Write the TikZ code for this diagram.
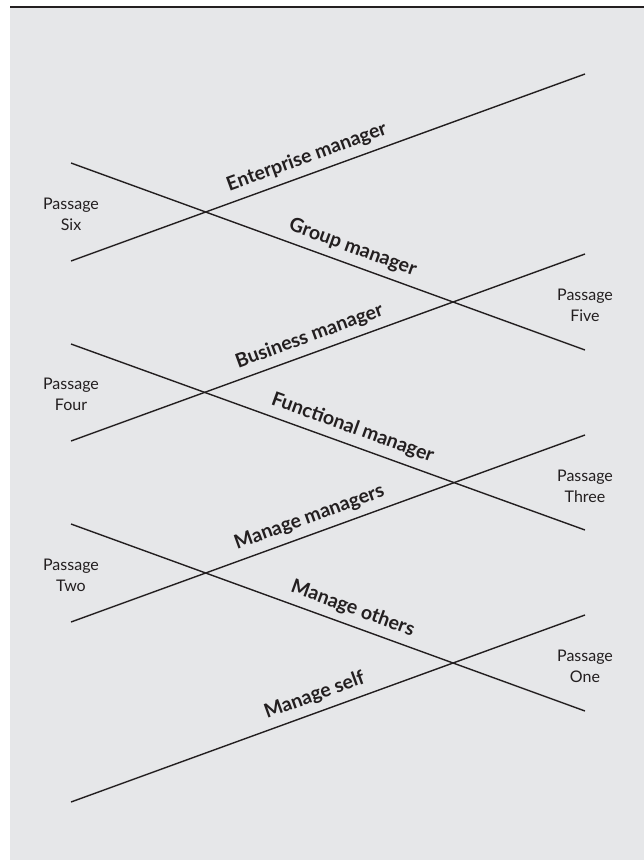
\documentclass[tikz,border=0pt]{standalone}
\usepackage{fontspec}
\setmainfont{Lato}
\definecolor{bggray}{HTML}{E6E7E9}
\definecolor{ink}{HTML}{231F20}
\begin{document}
\begin{tikzpicture}[x=1pt,y=-1pt,
  ln/.style={line width=1.4pt, draw=ink},
  pass/.style={align=center, text=ink, font=\fontsize{16}{21}\selectfont, inner sep=0pt},
  lab/.style={sloped, above=7pt, inner sep=0pt, text=ink, font=\bfseries\fontsize{19.5}{22}\selectfont}]
\useasboundingbox (0,0) rectangle (644,860);
\fill[bggray] (10,7) rectangle (644,860);
\draw[line width=1.6pt, draw=ink] (10,7) -- (644,7);
% end points
\coordinate (u1l) at (71,261); \coordinate (u1r) at (585,74);
\coordinate (u2l) at (71,441); \coordinate (u2r) at (585,254);
\coordinate (u3l) at (71,622); \coordinate (u3r) at (585,435);
\coordinate (u4l) at (71,802); \coordinate (u4r) at (585,615);
\coordinate (d1l) at (71,163); \coordinate (d1r) at (585,350);
\coordinate (d2l) at (71,344); \coordinate (d2r) at (585,530);
\coordinate (d3l) at (71,524); \coordinate (d3r) at (585,711);
% lines with labels
\draw[ln] (u1l) -- node[lab, pos=0.47] (l1) {Enterprise manager} (u1r);
\draw[ln] (d1l) -- node[lab, pos=0.537] (l2) {Group manager} (d1r);
\draw[ln] (u2l) -- node[lab, pos=0.475] (l3) {Business manager} (u2r);
\draw[ln] (d2l) -- node[lab, pos=0.537] (l4) {Functional manager} (d2r);
\draw[ln] (u3l) -- node[lab, pos=0.475] (l5) {Manage managers} (u3r);
\draw[ln] (d3l) -- node[lab, pos=0.537] (l6) {Manage others} (d3r);
\draw[ln] (u4l) -- node[lab, pos=0.485] (l7) {Manage self} (u4r);
% passage labels
\node[pass] (p6) at (71,214) {Passage\\Six};
\node[pass] (p4) at (71,394) {Passage\\Four};
\node[pass] (p2) at (71,575) {Passage\\Two};
\node[pass] (p5) at (585,305) {Passage\\Five};
\node[pass] (p3) at (585,486) {Passage\\Three};
\node[pass] (p1) at (585,666) {Passage\\One};
\end{tikzpicture}
\end{document}
